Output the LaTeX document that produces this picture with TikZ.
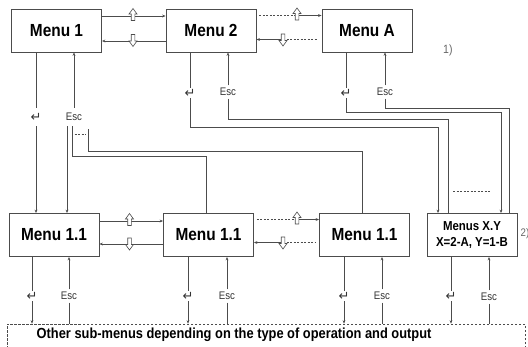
\documentclass[tikz,border=0pt]{standalone}
\usepackage{fontspec}
\setmainfont{Liberation Sans}[FakeStretch=0.88]
\newfontfamily\symf{DejaVu Sans}
\usetikzlibrary{arrows.meta}
\tikzset{
  uparrow/.pic={\path[draw=black!70, fill=white, line width=0.6pt]
    (-1.8,6) -- (-1.8,-0.5) -- (-4,-0.5) -- (0,-6) -- (4,-0.5) -- (1.8,-0.5) -- (1.8,6) -- cycle;},
  dnarrow/.pic={\path[draw=black!70, fill=white, line width=0.6pt]
    (-1.8,-6) -- (-1.8,0.5) -- (-4,0.5) -- (0,6) -- (4,0.5) -- (1.8,0.5) -- (1.8,-6) -- cycle;}
}
\begin{document}
\begin{tikzpicture}[x=1pt,y=-1pt,
  line/.style={draw=black!70, line width=0.7pt},
  arr/.style={line, -{Stealth[length=3.5pt,width=2.8pt]}},
  dashpat/.style={dash pattern=on 2pt off 1.5pt},
  menubox/.style={draw=black!70, line width=0.8pt, minimum width=90pt, minimum height=43pt, inner sep=0pt, font=\fontsize{17.5}{20}\selectfont\bfseries},
  esclbl/.style={font=\fontsize{11}{13}\selectfont, inner xsep=1pt, inner ysep=2.5pt, text=black!80},
  retlbl/.style={font=\symf\fontsize{13}{14}\selectfont, inner xsep=1pt, inner ysep=1pt, text=black!80},
  notelbl/.style={font=\fontsize{12}{14}\selectfont, text=black!60, inner sep=0pt}
]
\useasboundingbox (0,0) rectangle (528,346);

% boxes
\node[menubox] (m1) at (56.5,30.5) {Menu 1};
\node[menubox] (m2) at (211,30.5) {Menu 2};
\node[menubox] (mA) at (367,30.5) {Menu A};
\node[menubox] (b1) at (54,235) {Menu 1.1};
\node[menubox] (b2) at (208.5,235) {Menu 1.1};
\node[menubox] (b3) at (364.5,235) {Menu 1.1};
\node[menubox, font=\fontsize{13}{15.5}\selectfont\bfseries, align=center] (bx) at (472,235) {Menus X.Y\\X=2-A, Y=1-B};
\node[draw=black!70, line width=0.6pt, dash pattern=on 2.5pt off 1.5pt, minimum width=518pt, minimum height=26pt, inner sep=0pt] (sub) at (266,337) {};
\node[anchor=west, inner sep=0pt, font=\fontsize{14.6}{16}\selectfont\bfseries] (subtxt) at (36.5,334.5) {Other sub-menus depending on the type of operation and output};
\node[notelbl, anchor=west] (n1) at (443,50) {1)};
\node[notelbl, anchor=west, font=\fontsize{11}{13}\selectfont] (n2) at (520.5,234) {2)};

% horizontal arrows, top row
\draw[arr] (m1.east |- 0,16) -- (m2.west |- 0,16);
\draw[arr] (m2.west |- 0,41) -- (m1.east |- 0,41);
\draw[line, dashpat] ([xshift=3pt]m2.east |- 0,15.5) -- (297,15.5);
\draw[arr] (297,15.5) -- (mA.west |- 0,15.5);
\draw[arr] (283,39.5) -- (m2.east |- 0,39.5);
\draw[line, dashpat] (283,39.5) -- ([xshift=-4pt]mA.west |- 0,39.5);
\pic at (133,14.5) {uparrow};
\pic at (133,40.5) {dnarrow};
\pic at (297,14) {uparrow};
\pic at (283,40) {dnarrow};

% horizontal arrows, bottom row
\draw[arr] (b1.east |- 0,221) -- (b2.west |- 0,221);
\draw[arr] (b2.west |- 0,244) -- (b1.east |- 0,244);
\draw[line, dashpat] ([xshift=3pt]b2.east |- 0,219.5) -- (297,219.5);
\draw[arr] (297,219.5) -- (b3.west |- 0,219.5);
\draw[arr] (283,242.5) -- (b2.east |- 0,242.5);
\draw[line, dashpat] (283,242.5) -- ([xshift=-4pt]b3.west |- 0,242.5);
\pic at (129.5,219.5) {uparrow};
\pic at (129.5,244) {dnarrow};
\pic at (297,218) {uparrow};
\pic at (283,243) {dnarrow};

% Menu 1 verticals
\node[retlbl, inner ysep=5pt] (r1) at (36,117) {↵};
\node[esclbl, inner ysep=5pt] (e1) at (74,117) {Esc};
\draw[line] (m1.south -| r1) -- (r1.north);
\draw[arr] (r1.south) -- (b1.north -| r1);
\draw[arr] (e1.north) -- (m1.south -| e1);
\draw[arr] (e1.south -| 67,0) -- (b1.north -| 67,0);
\draw[line] (e1.south -| 72,0) -- (72,156) -- (206,156) -- (b2.north -| 206,0);
\draw[line, dashpat] (74.5,134) -- (86,134);
\draw[line] (88,129) -- (88,151) -- (362,151) -- (b3.north -| 362,0);

% Menu 2 verticals
\node[retlbl] (r2) at (190,93) {↵};
\node[esclbl] (e2) at (228,92) {Esc};
\draw[line] (m2.south -| r2) -- (r2.north);
\draw[arr] (r2.south) -- (190,127) -- (438,127) -- (bx.north -| 438,0);
\draw[arr] (e2.north) -- (m2.south -| e2);
\draw[line] (e2.south) -- (228,119) -- (448,119) -- (bx.north -| 448,0);

% Menu A verticals
\node[retlbl] (rA) at (346,93) {↵};
\node[esclbl] (eA) at (385,92) {Esc};
\draw[line] (mA.south -| rA) -- (rA.north);
\draw[arr] (rA.south) -- (346,112) -- (501,112) -- (bx.north -| 501,0);
\draw[arr] (eA.north) -- (mA.south -| eA);
\draw[line] (eA.south) -- (385,108) -- (509,108) -- (bx.north -| 509,0);
\draw[line, dashpat] (453,191) -- (490,191);

% bottom row verticals
\foreach \b/\rx/\ex/\ey in {b1/32/69/296, b2/188/227/296, b3/344/382/296, bx/451/489/297}{
  \node[retlbl] (r\b) at (\rx,296) {↵};
  \node[esclbl] (e\b) at (\ex,\ey) {Esc};
  \draw[line] (\b.south -| r\b) -- (r\b.north);
  \draw[arr] (r\b.south) -- (sub.north -| r\b);
  \draw[arr] (e\b.north) -- (\b.south -| e\b);
  \draw[line] (e\b.south) -- (sub.north -| e\b);
}
\end{tikzpicture}
\end{document}
